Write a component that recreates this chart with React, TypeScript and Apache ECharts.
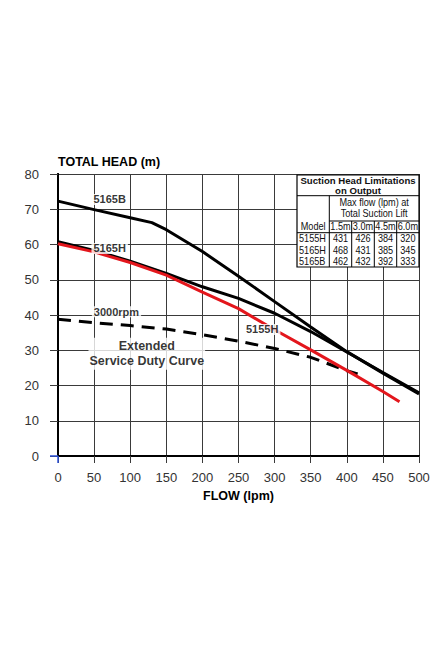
import React, { useEffect, useRef } from "react";
import * as echarts from "echarts";

// ---- data ----
const flowTicks = [0, 50, 100, 150, 200, 250, 300, 350, 400, 450, 500];
const headTicks = [0, 10, 20, 30, 40, 50, 60, 70, 80];

const curve5165B: [number, number][] = [
  [0, 72.3], [50, 69.9], [100, 67.6], [130, 66.2], [150, 64.2], [200, 58.0],
  [250, 51.0], [300, 43.8], [350, 36.6], [400, 29.6], [450, 23.5], [500, 17.6],
];
const curve5165H: [number, number][] = [
  [0, 60.8], [50, 58.3], [100, 55.3], [150, 51.8], [200, 48.0], [250, 44.7],
  [300, 40.5], [350, 35.3], [400, 29.5], [450, 23.7], [500, 17.9],
];
const curve5155H: [number, number][] = [
  [0, 60.2], [50, 57.9], [100, 54.9], [150, 51.3], [200, 46.5], [250, 41.8],
  [300, 35.8], [350, 30.1], [400, 24.3], [450, 18.3], [473, 15.4],
];
const curve3000rpm: [number, number][] = [
  [0, 38.8], [50, 37.8], [100, 37.0], [150, 36.0], [200, 34.4], [250, 32.6],
  [300, 30.5], [350, 28.0], [400, 24.2], [415, 23.3],
];

const curveLabelTexts = ["5165B", "5165H", "3000rpm", "5155H"];
const curveLabelAnchors: [number, number][] = [[71.6, 72.8], [71.6, 58.9], [81, 40.9], [282.8, 35.9]];
const noteText = "Extended\nService Duty Curve";
const noteAnchor: [number, number] = [123, 29.0];

const tableTitle = ["Suction Head Limitations", "on Output"];
const tableSubtitle = ["Max flow (lpm) at", "Total Suction Lift"];
const modelHeader = "Model";
const liftHeaders = ["1.5m", "3.0m", "4.5m", "6.0m"];
const tableModels = ["5155H", "5165H", "5165B"];
const tableValues = [
  [431, 426, 384, 320],
  [468, 431, 385, 345],
  [462, 432, 392, 333],
];

const yAxisTitle = "TOTAL HEAD (m)";
const xAxisTitle = "FLOW (lpm)";

const FONT = "'Liberation Sans', Arial, Helvetica, sans-serif";

function txt(x: number, y: number, text: string, opts: any = {}) {
  const align = opts.align || "center";
  return {
    type: "text",
    z: 101,
    x,
    y,
    scaleX: opts.scaleX || 1,
    style: {
      x: 0,
      y: 0,
      text,
      fill: "#111",
      font: `${opts.bold ? "bold " : ""}${opts.size || 10.5}px ${FONT}`,
      textAlign: align,
      textVerticalAlign: "middle",
      align,
      verticalAlign: "middle",
    },
  };
}
function ln(x1: number, y1: number, x2: number, y2: number) {
  return {
    type: "line",
    z: 101,
    shape: { x1, y1, x2, y2 },
    style: { stroke: "#000", lineWidth: 1 },
  };
}

export default function App() {
  const ref = useRef<HTMLDivElement>(null);
  useEffect(() => {
    if (!ref.current) return;
    const chart = echarts.init(ref.current, undefined, { renderer: "svg" });

    // table layout (pixels)
    const L = 297, T = 175, R = 419, B = 267;
    const colX = [329.3, 351.7, 374.3, 396.7, R];
    const N = { size: 10.5, scaleX: 0.87 };
    const graphic: any[] = [
      {
        type: "rect", z: 100,
        shape: { x: L, y: T, width: R - L, height: B - T },
        style: { fill: "#fff", stroke: "#000", lineWidth: 1.2 },
      },
      ln(L, 195.7, R, 195.7),
      ln(colX[0], 195.7, colX[0], B),
      ln(colX[0], 221, R, 221),
      ln(colX[1], 221, colX[1], B),
      ln(colX[2], 221, colX[2], B),
      ln(colX[3], 221, colX[3], B),
      ln(L, 232.7, R, 232.7),
      txt((L + R) / 2, 180.5, tableTitle[0], { bold: true, size: 9.6 }),
      txt((L + R) / 2, 190, tableTitle[1], { bold: true, size: 9.6 }),
      txt((colX[0] + R) / 2, 202, tableSubtitle[0], N),
      txt((colX[0] + R) / 2, 213.5, tableSubtitle[1], N),
      txt((L + colX[0]) / 2, 226.5, modelHeader, N),
    ];
    liftHeaders.forEach((h, i) => {
      graphic.push(txt((colX[i] + colX[i + 1]) / 2, 226.5, h, N));
    });
    const rowY = [238.5, 250, 261.5];
    tableModels.forEach((m, r) => {
      graphic.push(txt(299, rowY[r], m, { ...N, align: "left" }));
      tableValues[r].forEach((v, c) => {
        graphic.push(txt((colX[c] + colX[c + 1]) / 2, rowY[r], String(v), N));
      });
    });
    // blue ticks at the origin
    graphic.push({ type: "line", z: 50, shape: { x1: 50, y1: 456, x2: 58, y2: 456 }, style: { stroke: "#2b50d8", lineWidth: 1.5 } });
    graphic.push({ type: "line", z: 50, shape: { x1: 58, y1: 456, x2: 58, y2: 463 }, style: { stroke: "#2b50d8", lineWidth: 1.5 } });

    const labelData = curveLabelTexts.map((t, i) => ({
      value: [curveLabelAnchors[i][0], curveLabelAnchors[i][1], t],
    }));

    chart.setOption({
      animation: false,
      backgroundColor: "#fff",
      textStyle: { fontFamily: FONT },
      grid: { left: 58, right: 28, top: 174, bottom: 203, containLabel: false },
      xAxis: {
        type: "value",
        min: 0,
        max: 500,
        interval: 50,
        name: xAxisTitle,
        nameLocation: "middle",
        nameGap: 40,
        nameTextStyle: { fontWeight: "bold", fontSize: 12.5, color: "#000", verticalAlign: "middle", fontFamily: FONT },
        axisLine: { show: true, onZero: false, lineStyle: { color: "#000", width: 2 } },
        axisTick: { show: true, length: 7, lineStyle: { color: "#3a3a3a", width: 1 } },
        axisLabel: { margin: 15, fontSize: 13, color: "#333", fontFamily: FONT, formatter: (v: number) => (flowTicks.includes(v) ? String(v) : "") },
        splitLine: { show: true, lineStyle: { color: "#3a3a3a", width: 1 } },
      },
      yAxis: [
        {
          type: "value",
          min: 0,
          max: 80,
          interval: 10,
          name: yAxisTitle,
          nameLocation: "end",
          nameGap: 12,
          nameTextStyle: { fontWeight: "bold", fontSize: 12.5, color: "#000", align: "left", verticalAlign: "middle", fontFamily: FONT },
          axisLine: { show: true, onZero: false, lineStyle: { color: "#000", width: 2 } },
          axisTick: { show: true, length: 8, lineStyle: { color: "#3a3a3a", width: 1 } },
          axisLabel: { margin: 19, fontSize: 13, color: "#333", fontFamily: FONT, formatter: (v: number) => (headTicks.includes(v) ? String(v) : "") },
          splitLine: { show: true, lineStyle: { color: "#3a3a3a", width: 1 } },
        },
        {
          type: "value",
          position: "right",
          min: 0,
          max: 80,
          interval: 10,
          axisLine: { show: true, lineStyle: { color: "#000", width: 2 } },
          axisTick: { show: false },
          axisLabel: { show: false },
          splitLine: { show: false },
        },
      ],
      graphic,
      series: [
        {
          name: "3000rpm",
          type: "line",
          data: curve3000rpm,
          symbol: "none",
          z: 3,
          lineStyle: { color: "#000", width: 3, type: [13, 8] },
        },
        {
          name: "5165B",
          type: "line",
          data: curve5165B,
          symbol: "none",
          z: 4,
          lineStyle: { color: "#000", width: 3 },
        },
        {
          name: "5165H",
          type: "line",
          data: curve5165H,
          symbol: "none",
          z: 4,
          lineStyle: { color: "#000", width: 3 },
        },
        {
          name: "5155H",
          type: "line",
          data: curve5155H,
          symbol: "none",
          z: 5,
          lineStyle: { color: "#e3161c", width: 3 },
        },
        {
          name: "labels",
          type: "scatter",
          z: 10,
          symbolSize: 0,
          silent: true,
          data: labelData,
          label: {
            show: true,
            position: "inside",
            formatter: (p: any) => p.value[2],
            color: "#000",
            fontWeight: "bold",
            fontSize: 11,
            fontFamily: FONT,
            backgroundColor: "#fff",
            padding: [0, 2],
          },
        },
        {
          name: "note",
          type: "scatter",
          z: 10,
          symbolSize: 0,
          silent: true,
          data: [{ value: [noteAnchor[0], noteAnchor[1], noteText] }],
          label: {
            show: true,
            position: "inside",
            formatter: (p: any) => p.value[2],
            color: "#000",
            fontWeight: "bold",
            fontSize: 12.5,
            lineHeight: 15,
            align: "center",
            fontFamily: FONT,
            backgroundColor: "#fff",
            padding: [1, 1],
          },
        },
      ],
    });
    return () => chart.dispose();
  }, []);
  return (
    <div
      ref={ref}
      style={{ position: "fixed", left: 0, top: 0, width: 447, height: 659, background: "#fff" }}
    />
  );
}
